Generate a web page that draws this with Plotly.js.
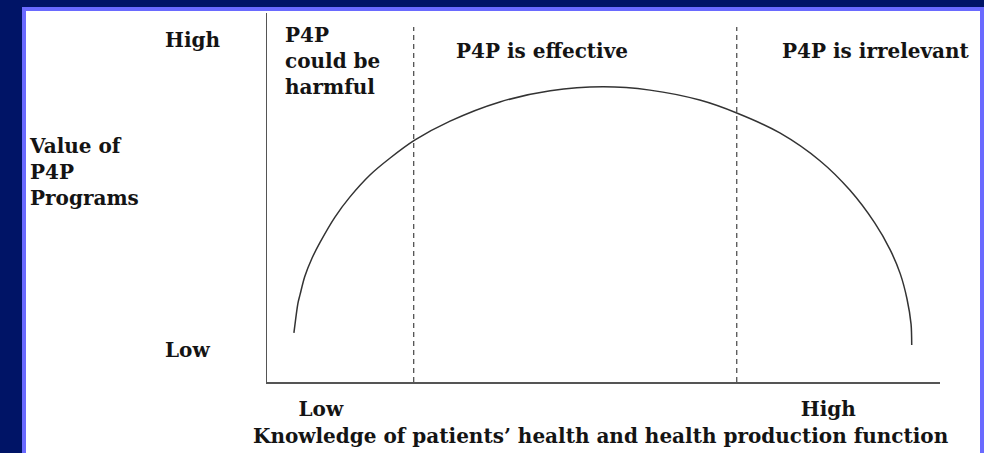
<!DOCTYPE html>
<html>
<head>
<meta charset="utf-8">
<script src="https://cdn.plot.ly/plotly-3.0.1.min.js"></script>
<style>
  html, body { margin: 0; padding: 0; background: #001466; width: 984px; height: 453px; overflow: hidden; }
  #frame { position: absolute; left: 22px; top: 7px; width: 962px; height: 446px; background: #6a6aff; }
  #chart { position: absolute; left: 26px; top: 11px; width: 954px; height: 442px; background: #ffffff; }
</style>
</head>
<body>
<div id="frame"></div>
<div id="chart"></div>
<script>
// Curve: value of P4P programs vs knowledge (0-10 scales)
const knowledge = [0.40, 0.46, 0.49, 0.56, 0.67, 0.79, 1.01, 1.23, 1.53, 1.83, 2.20, 2.72, 3.46, 4.21, 4.99, 5.69, 6.43, 6.98, 7.62, 8.22, 8.66, 9.03, 9.26, 9.41, 9.51, 9.57, 9.58];
const value     = [1.33, 2.14, 2.36, 2.85, 3.36, 3.79, 4.47, 5.01, 5.61, 6.07, 6.56, 7.07, 7.59, 7.89, 8.00, 7.91, 7.64, 7.29, 6.75, 5.99, 5.20, 4.31, 3.58, 2.93, 2.25, 1.57, 1.00];

// Region boundaries (dashed lines)
const boundaries = [2.18, 6.98];
const boundaryTop = 9.62;

// Axis tick labels
const xTickVals = [0.80, 8.34];
const xTickText = ['Low', 'High'];
const yTickText = ['High', 'Low'];

// Region labels
const regionLabels = ['P4P<br>could be<br>harmful', 'P4P is effective', 'P4P is irrelevant'];

const xTitle = 'Knowledge of patients\u2019 health and health production function';
const yTitle = 'Value of<br>P4P<br>Programs';

// pixel -> paper helpers for text placement (plot area: x 267..940, y 13..382)
const PX = px => (px - 267) / 673;
const PY = py => (382 - py) / 369;

const font = { family: 'DejaVu Serif', size: 20, weight: 700, color: '#141414' };

const traces = [
  {
    x: knowledge, y: value, type: 'scatter', mode: 'lines',
    line: { color: '#333333', width: 1.5, shape: 'spline', smoothing: 0.8 },
    hoverinfo: 'skip'
  }
];
boundaries.forEach(b => {
  traces.push({
    x: [b, b], y: [0, boundaryTop], type: 'scatter', mode: 'lines',
    line: { color: '#444444', width: 1.2, dash: '5px,4px' },
    hoverinfo: 'skip'
  });
});

const annotations = [
  { text: regionLabels[0], x: PX(284), y: PY(22), xanchor: 'left', yanchor: 'top', align: 'left' },
  { text: regionLabels[1], x: PX(542), y: PY(50.5), xanchor: 'center', yanchor: 'middle' },
  { text: regionLabels[2], x: PX(876), y: PY(50.5), xanchor: 'center', yanchor: 'middle' },
  { text: yTickText[0], x: PX(164), y: PY(39.5), xanchor: 'left', yanchor: 'middle' },
  { text: yTickText[1], x: PX(164), y: PY(350), xanchor: 'left', yanchor: 'middle' },
  { text: yTitle, x: PX(28), y: PY(172), xanchor: 'left', yanchor: 'middle', align: 'left' },
  { text: xTitle, x: PX(601), y: PY(436), xanchor: 'center', yanchor: 'middle' }
].map(a => Object.assign({ xref: 'paper', yref: 'paper', showarrow: false, font: font, borderpad: 0 }, a));

const layout = {
  width: 954, height: 442,
  margin: { l: 241, r: 40, t: 2, b: 71, pad: 0 },
  paper_bgcolor: '#ffffff', plot_bgcolor: '#ffffff',
  showlegend: false,
  xaxis: {
    range: [0, 10], showgrid: false, zeroline: false,
    showline: true, linecolor: '#555555', linewidth: 1.5,
    ticks: '', tickvals: xTickVals, ticktext: xTickText,
    tickfont: font, ticklabelstandoff: 8, fixedrange: true
  },
  yaxis: {
    range: [0, 10], showgrid: false, zeroline: false,
    showline: true, linecolor: '#555555', linewidth: 1.5,
    ticks: '', showticklabels: false, fixedrange: true
  },
  annotations: annotations
};

Plotly.newPlot('chart', traces, layout, { displayModeBar: false, staticPlot: true });
</script>
</body>
</html>
